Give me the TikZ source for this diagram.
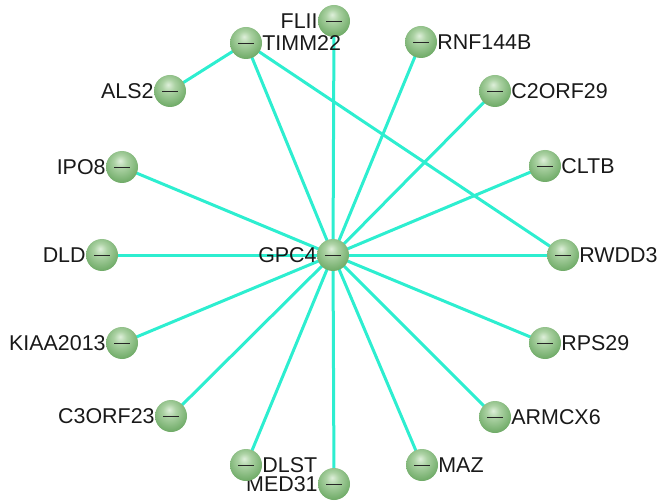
\documentclass[tikz,border=0pt]{standalone}
\usepackage{fontspec}
\setmainfont{Liberation Sans}
\usetikzlibrary{backgrounds}
\definecolor{edgecol}{RGB}{45,238,208}
\definecolor{spA}{RGB}{222,239,218}
\definecolor{spB}{RGB}{172,210,164}
\definecolor{spC}{RGB}{116,174,108}
\definecolor{spD}{RGB}{70,138,64}
\definecolor{spE}{RGB}{36,100,36}
\pgfdeclareradialshading{greensphere}{\pgfpoint{-3bp}{10bp}}{color(0bp)=(spA); color(10bp)=(spB); color(28bp)=(spC); color(46bp)=(spD); color(62bp)=(spE)}
\tikzset{
  gene/.style={circle, minimum size=32bp, inner sep=0pt, shade, shading=greensphere,
    path picture={\draw[line width=0.9bp, black!85] ([xshift=-8bp]path picture bounding box.center) -- ([xshift=8bp]path picture bounding box.center);}},
  lab/.style={font=\fontsize{21.5}{25}\selectfont, inner sep=0pt, text=black!90},
  link/.style={draw=edgecol, line width=3bp},
  every label/.style={lab},
  label distance=0pt
}
\begin{document}
\begin{tikzpicture}[x=1bp,y=-1bp]
\useasboundingbox (0,0) rectangle (663,504);
\node[gene, label=left:GPC4] (gpc4) at (333,255) {};
\node[gene, label=left:FLII] (flii) at (334,21) {};
\node[gene, label=right:RNF144B] (rnf) at (421,42) {};
\node[gene, label=right:C2ORF29] (c2orf) at (495,91) {};
\node[gene, label=right:CLTB] (cltb) at (545,166) {};
\node[gene, label=right:RWDD3] (rwdd) at (563,255) {};
\node[gene, label=right:RPS29] (rps) at (545,343) {};
\node[gene, label=right:ARMCX6] (armc) at (495,417) {};
\node[gene, label=right:MAZ] (maz) at (422,465) {};
\node[gene, label=left:MED31] (med) at (334,484) {};
\node[gene, label=right:DLST] (dlst) at (246,465) {};
\node[gene, label=left:C3ORF23] (c3orf) at (171,416) {};
\node[gene, label=left:KIAA2013] (kiaa) at (122,343) {};
\node[gene, label=left:DLD] (dld) at (102,255) {};
\node[gene, label=left:IPO8] (ipo) at (122,167) {};
\node[gene, label=left:ALS2] (als) at (170,91) {};
\node[gene, label=right:TIMM22] (timm) at (246,43) {};
\begin{pgfonlayer}{background}
\foreach \n in {flii,rnf,c2orf,cltb,rwdd,rps,armc,maz,med,dlst,c3orf,kiaa,dld,ipo,timm}
  \draw[link] (gpc4.center) -- (\n.center);
\draw[link] (als.center) -- (timm.center);
\draw[link] (timm.center) -- (rwdd.center);
\end{pgfonlayer}
\end{tikzpicture}
\end{document}
